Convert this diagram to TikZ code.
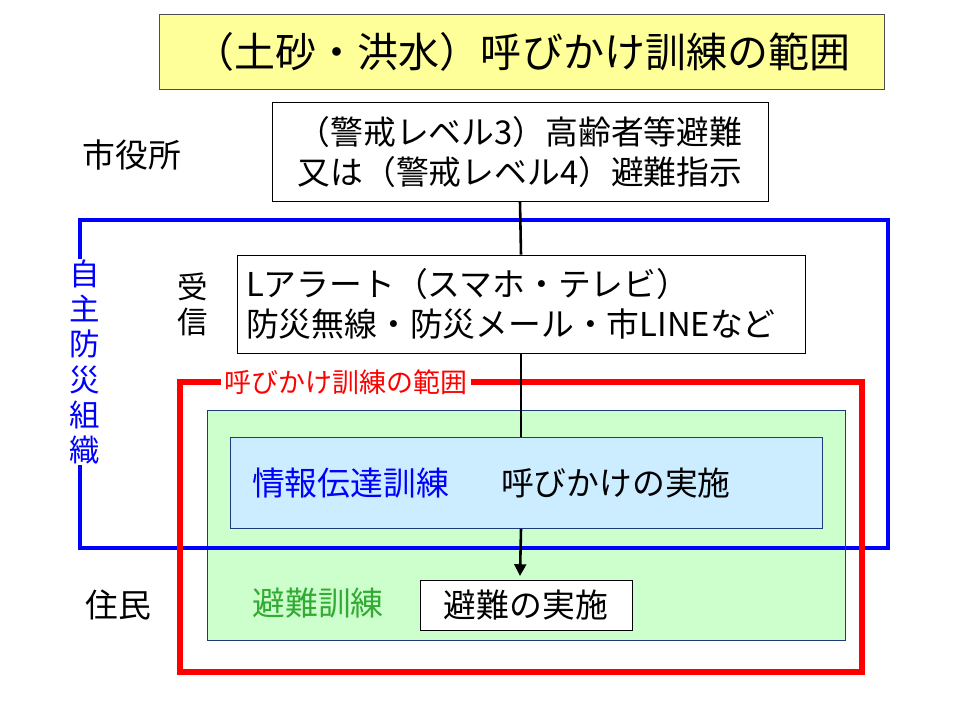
\documentclass[tikz,border=0pt]{standalone}
\usepackage{fontspec}
\setmainfont{Noto Sans CJK JP}
\usetikzlibrary{arrows.meta}
\definecolor{ttl}{HTML}{FFFF99}
\definecolor{grn}{HTML}{CCFFCC}
\definecolor{lbl}{HTML}{CCECFF}
\definecolor{gtx}{HTML}{33AA33}
\definecolor{bdr}{HTML}{1F3A7A}
\tikzset{
  px/.style={x=0.03cm,y=-0.03cm},
  big/.style={font=\fontsize{35}{40}\selectfont},
  mid/.style={font=\fontsize{28}{34}\selectfont},
  vtext/.style={font=\fontsize{26}{30}\selectfont,align=center},
  conn/.style={line width=2.2pt},
}
\begin{document}
\begin{tikzpicture}[px]
\useasboundingbox (0,0) rectangle (960,713);
\draw[blue,line width=3pt] (80,220) rectangle (888,548);
\draw[red,line width=4.5pt] (180,382) rectangle (862,672);
\fill[grn] (207,410) rectangle (845,640);
\draw[bdr,line width=0.8pt] (207,410) rectangle (845,640);
\node[draw=bdr,line width=0.8pt,fill=lbl,minimum width=592*0.03cm,minimum height=91*0.03cm,anchor=north west,inner sep=0] (info) at (230,437) {};
\draw[blue,line width=3pt] (207,548) -- (845,548);
\node[mid,anchor=west,text=blue] (it) at (248,483) {情報伝達訓練};
\node[mid,anchor=west] (yb) at (497,483) {呼びかけの実施};
\node[draw=black!70,fill=ttl,line width=0.8pt,minimum width=725*0.03cm,minimum height=75*0.03cm,big,inner sep=0] (title) at (522,52) {（土砂・洪水）呼びかけ訓練の範囲};
\node[draw,fill=white,line width=0.8pt,minimum width=496*0.03cm,minimum height=99*0.03cm,mid,align=center,inner sep=0] (b1) at (520,152) {（警戒レベル3）高齢者等避難\\又は（警戒レベル4）避難指示};
\node[draw,fill=white,line width=0.8pt,minimum width=568*0.03cm,minimum height=98*0.03cm,mid,align=left,text width=550*0.03cm,inner sep=0] (b2) at (521,304) {Lアラート（スマホ・テレビ）\\防災無線・防災メール・市LINEなど};
\node[draw,fill=white,line width=0.8pt,minimum width=212*0.03cm,minimum height=50*0.03cm,mid,inner sep=0] (hj) at (526,605) {避難の実施};
\coordinate (aend) at (520,576);
\draw[conn] (b1.south) -- (b2.north);
\draw[conn] (b2.south) -- (info.north -| b2.south);
\draw[conn,-{Triangle[length=10pt,width=10pt]}] (info.south -| b2.south) -- (aend);
\node[mid] (shi) at (132,155) {市役所};
\node[vtext] (jus) at (193,304) {受\\信};
\node[vtext,text=blue,fill=white,inner sep=1pt,font=\fontsize{26}{30}\selectfont] (jishu) at (85,362) {自\\主\\防\\災\\組\\織};
\node[text=red,fill=white,inner sep=3pt,font=\fontsize{23}{27}\selectfont] (rl) at (346,382) {呼びかけ訓練の範囲};
\node[mid] (jm) at (118,605) {住民};
\node[mid,text=gtx] (hk) at (318,603) {避難訓練};
\end{tikzpicture}
\end{document}
